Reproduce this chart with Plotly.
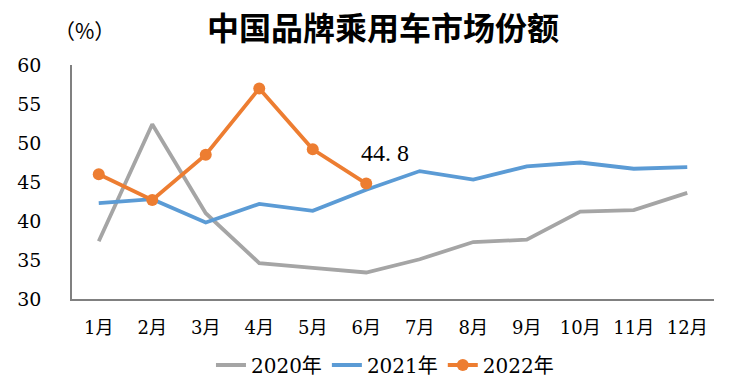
import plotly.graph_objects as go

months = ["1月", "2月", "3月", "4月", "5月", "6月", "7月", "8月", "9月", "10月", "11月", "12月"]
s2020 = [37.4, 52.4, 41.0, 34.6, 34.0, 33.4, 35.1, 37.3, 37.6, 41.2, 41.4, 43.6]
s2021 = [42.3, 42.8, 39.8, 42.2, 41.3, 44.0, 46.4, 45.3, 47.0, 47.5, 46.7, 46.9]
s2022 = [46.0, 42.7, 48.5, 57.0, 49.2, 44.8]
series_names = ["2020年", "2021年", "2022年"]
yticks = [30, 35, 40, 45, 50, 55, 60]

serif = "DejaVu Serif, Noto Sans CJK SC, serif"

fig = go.Figure()
fig.add_trace(go.Scatter(x=months, y=s2020, mode="lines", name=series_names[0],
                         line=dict(color="#A5A5A5", width=3.8)))
fig.add_trace(go.Scatter(x=months, y=s2021, mode="lines", name=series_names[1],
                         line=dict(color="#5B9BD5", width=3.8)))
fig.add_trace(go.Scatter(x=months[:len(s2022)], y=s2022, mode="lines+markers", name=series_names[2],
                         line=dict(color="#ED7D31", width=3.8),
                         marker=dict(color="#ED7D31", size=12)))

last = s2022[-1]
fig.add_annotation(x=months[len(s2022) - 1], y=last, text=f"{last:.1f}".replace(".", ". "),
                   showarrow=False, xshift=19, yshift=31,
                   font=dict(family="Liberation Serif, serif", size=24, color="#000000"))

# page is offset 8px by the default body margin, so the figure is drawn 8px smaller
fig.update_layout(
    width=736, height=370,
    margin=dict(l=64, r=30, t=57, b=79, autoexpand=False),
    paper_bgcolor="white", plot_bgcolor="white",
    title=dict(text="<b>中国品牌乘用车市场份额</b>", x=0.5095, xanchor="center", y=0.944, yanchor="middle",
               font=dict(family="Noto Sans CJK SC", size=32, color="#000000")),
    showlegend=True,
    legend=dict(orientation="h", x=0.4875, xanchor="center", y=-0.282, yanchor="middle",
                font=dict(family=serif, size=20, color="#000000"), itemwidth=30),
    xaxis=dict(range=[-0.5, 11.5], showline=True, linecolor="#808080", linewidth=1.5, showgrid=False,
               ticks="", automargin=False, ticklabelstandoff=12,
               tickfont=dict(family=serif, size=18, color="#000000")),
    yaxis=dict(range=[30, 60], tickvals=yticks, showline=True, linecolor="#808080", linewidth=1.5,
               showgrid=False, ticks="", zeroline=False, automargin=False, ticklabelstandoff=25,
               tickfont=dict(family=serif, size=19, color="#000000")),
)
fig.add_annotation(xref="paper", yref="paper", x=0.019, y=1.15, xanchor="center", yanchor="middle",
                   text="（%）", showarrow=False,
                   font=dict(family="Noto Sans CJK SC", size=21, color="#000000"))

fig.write_html("out.html")
